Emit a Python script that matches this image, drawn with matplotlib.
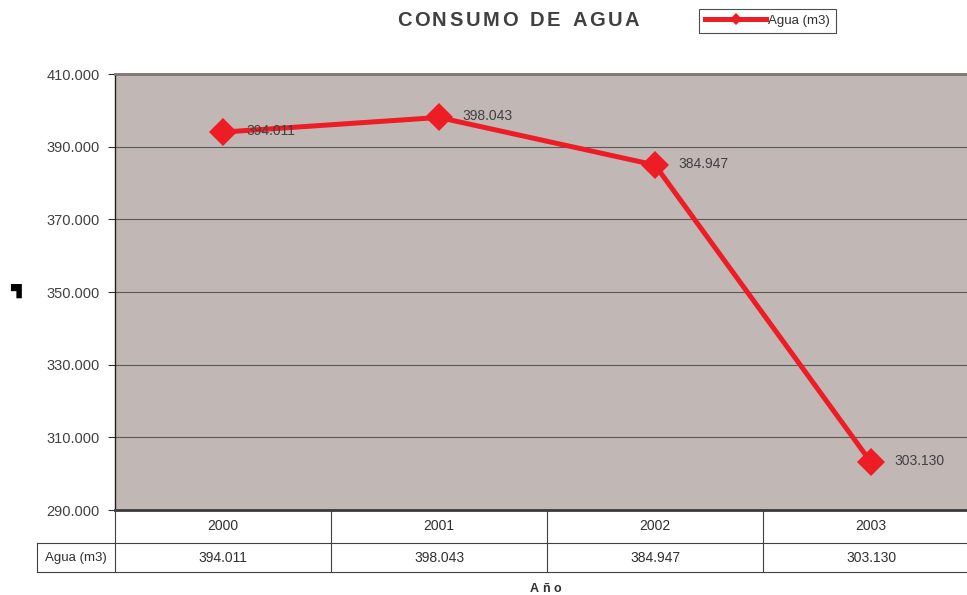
import matplotlib
matplotlib.use("Agg")
import matplotlib.pyplot as plt
from matplotlib.lines import Line2D
from matplotlib.transforms import blended_transform_factory
import numpy as np

plt.rcParams['font.family'] = ['Liberation Sans', 'DejaVu Sans']

# datos
years = ['2000', '2001', '2002', '2003']
agua = [394011, 398043, 384947, 303130]
serie = 'Agua (m3)'
yticks = [290000, 310000, 330000, 350000, 370000, 390000, 410000]

def fmt(v):
    return f"{v:,.0f}".replace(",", ".")

W, H = 967, 595
fig = plt.figure(figsize=(W / 100, H / 100), dpi=100)
fig.patch.set_facecolor('white')
renderer = fig.canvas.get_renderer()

def spaced(s, xc, yc, gap, **kw):
    # texto con espaciado entre letras (en pixeles de figura)
    widths = []
    for ch in s:
        t = fig.text(0, 0, ch if ch != ' ' else 'n', **kw)
        widths.append(t.get_window_extent(renderer).width * (0.55 if ch == ' ' else 1))
        t.remove()
    total = sum(widths) + gap * (len(s) - 1)
    xp = xc - total / 2
    for ch, w in zip(s, widths):
        if ch != ' ':
            fig.text(xp / W, 1 - yc / H, ch, ha='left', va='center', **kw)
        xp += w + gap

# area del grafico (se sale un poco por la derecha, como el original)
left, right, top, bottom = 115, 979, 74, 510
ax = fig.add_axes([left / W, (H - bottom) / H, (right - left) / W, (bottom - top) / H])
ax.set_facecolor('#C1B8B5')

x = np.arange(len(years))
ax.plot(x, agua, color='#EE1C25', lw=3.6, marker='D', ms=14, mew=0, zorder=3)
for xi, v in zip(x, agua):
    ax.annotate(fmt(v), (xi, v), xytext=(23, 1), textcoords='offset pixels',
                va='center', ha='left', fontsize=10, color='#404040', zorder=4)

ax.set_xlim(-0.5, len(years) - 0.5)
ax.set_ylim(290000, 410000)
ax.set_yticks(yticks)
ax.set_yticklabels([fmt(v) for v in yticks], fontsize=10.5, color='#404040')
ax.set_xticks([])
ax.tick_params(axis='y', direction='out', length=5, width=0.8, color='#303030', pad=6)
ax.yaxis.grid(True, color='#5a5a5a', lw=0.8)
ax.set_axisbelow(True)
ax.spines['right'].set_visible(False)
ax.spines['top'].set_color('#7d7473')
ax.spines['top'].set_linewidth(2)
ax.spines['bottom'].set_color('#3c3c3c')
ax.spines['bottom'].set_linewidth(2)
ax.spines['left'].set_color('#202020')
ax.spines['left'].set_linewidth(1)

# tabla de datos bajo el eje
ph = bottom - top
pw = right - left
r1 = -(543 - bottom) / ph
r2 = -(572 - bottom) / ph
lab_x = -(left - 37) / pw
tr = blended_transform_factory(ax.transData, ax.transAxes)
lc = '#404040'
for b in np.arange(-0.5, len(years), 1.0):
    ax.plot([b, b], [0, r2], transform=tr, color=lc, lw=0.8, clip_on=False)
ax.plot([lab_x, 1], [r1, r1], transform=ax.transAxes, color=lc, lw=0.8, clip_on=False)
ax.plot([lab_x, 1], [r2, r2], transform=ax.transAxes, color=lc, lw=0.8, clip_on=False)
ax.plot([lab_x, lab_x], [r1, r2], transform=ax.transAxes, color=lc, lw=0.8, clip_on=False)
for xi, yr, v in zip(x, years, agua):
    ax.text(xi, r1 / 2, yr, transform=tr, ha='center', va='center', fontsize=10, color='#303030')
    ax.text(xi, (r1 + r2) / 2, fmt(v), transform=tr, ha='center', va='center', fontsize=10, color='#303030')
ax.text(lab_x / 2, (r1 + r2) / 2, serie, transform=ax.transAxes, ha='center', va='center',
        fontsize=9.5, color='#303030')

spaced('Año', 545, 589, 3.5, fontsize=9, fontweight='bold', color='#303030')
spaced('CONSUMO DE AGUA', 518, 21, 2.6, fontsize=14.5, fontweight='bold', color='#404040')
fig.text(15 / W, 1 - 291 / H, '▜', ha='center', va='center', fontsize=10,
         color='black', family='DejaVu Sans')

handle = Line2D([], [], color='#EE1C25', lw=3.6, marker='D', ms=6, mew=0)
leg = fig.legend([handle], [serie], loc='center', bbox_to_anchor=(767.5 / W, 1 - 21 / H),
                 frameon=True, fancybox=False, fontsize=9.5, handlelength=4.6,
                 handletextpad=0.15, borderpad=0.45, borderaxespad=0)
leg.get_frame().set_edgecolor('#202020')
leg.get_frame().set_linewidth(0.8)
for t in leg.get_texts():
    t.set_color('#303030')

fig.savefig('out.png', dpi=100)
